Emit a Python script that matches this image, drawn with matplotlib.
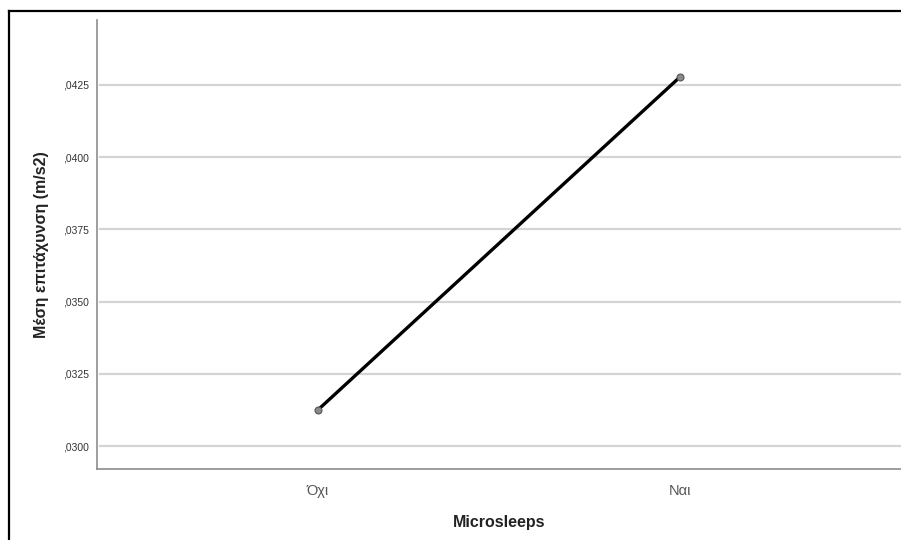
import matplotlib
matplotlib.use("Agg")
import matplotlib.pyplot as plt
from matplotlib.lines import Line2D

# Mean acceleration by microsleep group
categories = ["Όχι", "Ναι"]
mean_accel = [0.03125, 0.04278]
y_ticks = [0.0300, 0.0325, 0.0350, 0.0375, 0.0400, 0.0425]
y_tick_labels = [",0300", ",0325", ",0350", ",0375", ",0400", ",0425"]

plt.rcParams["font.family"] = ["Liberation Sans", "DejaVu Sans"]

fig = plt.figure(figsize=(9.01, 5.40), dpi=100)
ax = fig.add_axes([97 / 901, 71 / 540, 1 - 97 / 901, (469 - 20) / 540])

x = list(range(len(categories)))
ax.plot(x, mean_accel, color="black", linewidth=2.4, zorder=3,
        marker="o", markersize=5, markerfacecolor="#8a8a8a",
        markeredgecolor="#555555", markeredgewidth=0.8)

ax.set_xlim(-0.61, 1.61)
ax.set_ylim(0.029204, 0.04475)

ax.set_yticks(y_ticks)
ax.set_yticklabels(y_tick_labels, fontsize=7.5, color="#333333")
ax.set_xticks(x)
ax.set_xticklabels(categories, fontsize=10.5, color="#555555")
ax.tick_params(axis="both", length=0, pad=6)
ax.tick_params(axis="x", pad=11)

for yv in y_ticks:
    ax.axhline(yv, xmin=0.004, xmax=1, color="#d4d4d4", linewidth=1.6, zorder=1)

for side in ["top", "right"]:
    ax.spines[side].set_visible(False)
for side in ["left", "bottom"]:
    ax.spines[side].set_color("#8c8c8c")
    ax.spines[side].set_linewidth(1.2)

ax.set_ylabel("Μέση επιτάχυνση (m/s2)", fontsize=11.5, fontweight="bold",
              color="#222222", labelpad=10)
ax.set_xlabel("Microsleeps", fontsize=11.5, fontweight="bold",
              color="#222222", labelpad=12)

# Outer frame (top and left edges)
fig.add_artist(Line2D([9 / 901, 1], [1 - 10.5 / 540, 1 - 10.5 / 540],
                      transform=fig.transFigure, color="black", linewidth=1.6))
fig.add_artist(Line2D([9 / 901, 9 / 901], [0, 1 - 10.5 / 540],
                      transform=fig.transFigure, color="black", linewidth=1.6))

fig.savefig("out.png", dpi=100, facecolor="white")
